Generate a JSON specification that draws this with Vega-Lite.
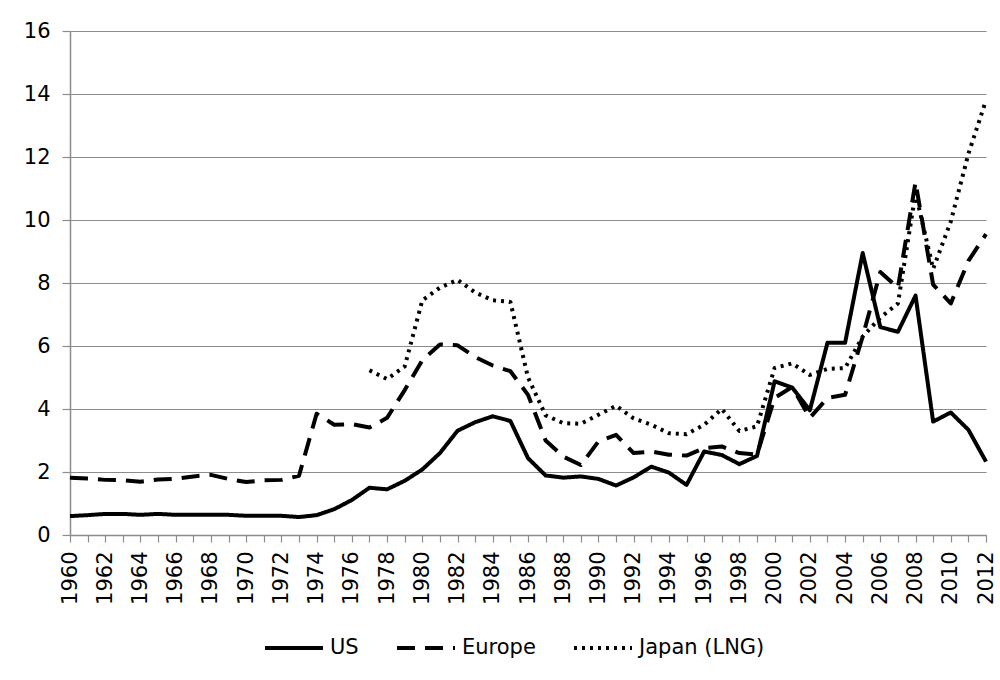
{
  "$schema": "https://vega.github.io/schema/vega-lite/v6.json",
  "autosize": {"type": "none"},
  "width": 916,
  "height": 504,
  "padding": {"left": 70, "top": 31, "right": 14, "bottom": 145},
  "background": "#ffffff",
  "config": {
    "font": "DejaVu Sans",
    "view": {"stroke": null},
    "axis": {"labelFont": "DejaVu Sans", "labelFontSize": 21, "labelColor": "#000000", "domainColor": "#8c8c8c", "tickColor": "#8c8c8c", "gridColor": "#8c8c8c", "domainWidth": 1.5, "tickWidth": 1.2, "gridWidth": 1.2}
  },
  "data": {"values": [
    {"year": 1960, "series": "US", "value": 0.60},
    {"year": 1961, "series": "US", "value": 0.63},
    {"year": 1962, "series": "US", "value": 0.67},
    {"year": 1963, "series": "US", "value": 0.67},
    {"year": 1964, "series": "US", "value": 0.64},
    {"year": 1965, "series": "US", "value": 0.67},
    {"year": 1966, "series": "US", "value": 0.64},
    {"year": 1967, "series": "US", "value": 0.64},
    {"year": 1968, "series": "US", "value": 0.64},
    {"year": 1969, "series": "US", "value": 0.64},
    {"year": 1970, "series": "US", "value": 0.61},
    {"year": 1971, "series": "US", "value": 0.61},
    {"year": 1972, "series": "US", "value": 0.61},
    {"year": 1973, "series": "US", "value": 0.57},
    {"year": 1974, "series": "US", "value": 0.63},
    {"year": 1975, "series": "US", "value": 0.82},
    {"year": 1976, "series": "US", "value": 1.11},
    {"year": 1977, "series": "US", "value": 1.50},
    {"year": 1978, "series": "US", "value": 1.45},
    {"year": 1979, "series": "US", "value": 1.72},
    {"year": 1980, "series": "US", "value": 2.08},
    {"year": 1981, "series": "US", "value": 2.60},
    {"year": 1982, "series": "US", "value": 3.31},
    {"year": 1983, "series": "US", "value": 3.58},
    {"year": 1984, "series": "US", "value": 3.77},
    {"year": 1985, "series": "US", "value": 3.62},
    {"year": 1986, "series": "US", "value": 2.44},
    {"year": 1987, "series": "US", "value": 1.89},
    {"year": 1988, "series": "US", "value": 1.82},
    {"year": 1989, "series": "US", "value": 1.86},
    {"year": 1990, "series": "US", "value": 1.78},
    {"year": 1991, "series": "US", "value": 1.57},
    {"year": 1992, "series": "US", "value": 1.83},
    {"year": 1993, "series": "US", "value": 2.17},
    {"year": 1994, "series": "US", "value": 1.98},
    {"year": 1995, "series": "US", "value": 1.59},
    {"year": 1996, "series": "US", "value": 2.65},
    {"year": 1997, "series": "US", "value": 2.54},
    {"year": 1998, "series": "US", "value": 2.25},
    {"year": 1999, "series": "US", "value": 2.51},
    {"year": 2000, "series": "US", "value": 4.88},
    {"year": 2001, "series": "US", "value": 4.68},
    {"year": 2002, "series": "US", "value": 3.96},
    {"year": 2003, "series": "US", "value": 6.10},
    {"year": 2004, "series": "US", "value": 6.10},
    {"year": 2005, "series": "US", "value": 8.95},
    {"year": 2006, "series": "US", "value": 6.60},
    {"year": 2007, "series": "US", "value": 6.45},
    {"year": 2008, "series": "US", "value": 7.60},
    {"year": 2009, "series": "US", "value": 3.60},
    {"year": 2010, "series": "US", "value": 3.89},
    {"year": 2011, "series": "US", "value": 3.34},
    {"year": 2012, "series": "US", "value": 2.33},
    {"year": 1960, "series": "Europe", "value": 1.82},
    {"year": 1961, "series": "Europe", "value": 1.79},
    {"year": 1962, "series": "Europe", "value": 1.75},
    {"year": 1963, "series": "Europe", "value": 1.74},
    {"year": 1964, "series": "Europe", "value": 1.69},
    {"year": 1965, "series": "Europe", "value": 1.76},
    {"year": 1966, "series": "Europe", "value": 1.78},
    {"year": 1967, "series": "Europe", "value": 1.86},
    {"year": 1968, "series": "Europe", "value": 1.91},
    {"year": 1969, "series": "Europe", "value": 1.78},
    {"year": 1970, "series": "Europe", "value": 1.68},
    {"year": 1971, "series": "Europe", "value": 1.74},
    {"year": 1972, "series": "Europe", "value": 1.75},
    {"year": 1973, "series": "Europe", "value": 1.88},
    {"year": 1974, "series": "Europe", "value": 3.85},
    {"year": 1975, "series": "Europe", "value": 3.50},
    {"year": 1976, "series": "Europe", "value": 3.52},
    {"year": 1977, "series": "Europe", "value": 3.41},
    {"year": 1978, "series": "Europe", "value": 3.72},
    {"year": 1979, "series": "Europe", "value": 4.60},
    {"year": 1980, "series": "Europe", "value": 5.55},
    {"year": 1981, "series": "Europe", "value": 6.05},
    {"year": 1982, "series": "Europe", "value": 6.02},
    {"year": 1983, "series": "Europe", "value": 5.65},
    {"year": 1984, "series": "Europe", "value": 5.38},
    {"year": 1985, "series": "Europe", "value": 5.20},
    {"year": 1986, "series": "Europe", "value": 4.45},
    {"year": 1987, "series": "Europe", "value": 3.00},
    {"year": 1988, "series": "Europe", "value": 2.49},
    {"year": 1989, "series": "Europe", "value": 2.22},
    {"year": 1990, "series": "Europe", "value": 2.97},
    {"year": 1991, "series": "Europe", "value": 3.18},
    {"year": 1992, "series": "Europe", "value": 2.60},
    {"year": 1993, "series": "Europe", "value": 2.65},
    {"year": 1994, "series": "Europe", "value": 2.55},
    {"year": 1995, "series": "Europe", "value": 2.52},
    {"year": 1996, "series": "Europe", "value": 2.76},
    {"year": 1997, "series": "Europe", "value": 2.81},
    {"year": 1998, "series": "Europe", "value": 2.60},
    {"year": 1999, "series": "Europe", "value": 2.55},
    {"year": 2000, "series": "Europe", "value": 4.35},
    {"year": 2001, "series": "Europe", "value": 4.70},
    {"year": 2002, "series": "Europe", "value": 3.72},
    {"year": 2003, "series": "Europe", "value": 4.35},
    {"year": 2004, "series": "Europe", "value": 4.45},
    {"year": 2005, "series": "Europe", "value": 6.30},
    {"year": 2006, "series": "Europe", "value": 8.35},
    {"year": 2007, "series": "Europe", "value": 7.85},
    {"year": 2008, "series": "Europe", "value": 11.20},
    {"year": 2009, "series": "Europe", "value": 7.95},
    {"year": 2010, "series": "Europe", "value": 7.35},
    {"year": 2011, "series": "Europe", "value": 8.70},
    {"year": 2012, "series": "Europe", "value": 9.55},
    {"year": 1977, "series": "Japan (LNG)", "value": 5.23},
    {"year": 1978, "series": "Japan (LNG)", "value": 4.95},
    {"year": 1979, "series": "Japan (LNG)", "value": 5.35},
    {"year": 1980, "series": "Japan (LNG)", "value": 7.45},
    {"year": 1981, "series": "Japan (LNG)", "value": 7.85},
    {"year": 1982, "series": "Japan (LNG)", "value": 8.10},
    {"year": 1983, "series": "Japan (LNG)", "value": 7.70},
    {"year": 1984, "series": "Japan (LNG)", "value": 7.45},
    {"year": 1985, "series": "Japan (LNG)", "value": 7.40},
    {"year": 1986, "series": "Japan (LNG)", "value": 5.00},
    {"year": 1987, "series": "Japan (LNG)", "value": 3.80},
    {"year": 1988, "series": "Japan (LNG)", "value": 3.55},
    {"year": 1989, "series": "Japan (LNG)", "value": 3.53},
    {"year": 1990, "series": "Japan (LNG)", "value": 3.82},
    {"year": 1991, "series": "Japan (LNG)", "value": 4.10},
    {"year": 1992, "series": "Japan (LNG)", "value": 3.70},
    {"year": 1993, "series": "Japan (LNG)", "value": 3.50},
    {"year": 1994, "series": "Japan (LNG)", "value": 3.23},
    {"year": 1995, "series": "Japan (LNG)", "value": 3.20},
    {"year": 1996, "series": "Japan (LNG)", "value": 3.50},
    {"year": 1997, "series": "Japan (LNG)", "value": 4.00},
    {"year": 1998, "series": "Japan (LNG)", "value": 3.30},
    {"year": 1999, "series": "Japan (LNG)", "value": 3.45},
    {"year": 2000, "series": "Japan (LNG)", "value": 5.30},
    {"year": 2001, "series": "Japan (LNG)", "value": 5.45},
    {"year": 2002, "series": "Japan (LNG)", "value": 5.08},
    {"year": 2003, "series": "Japan (LNG)", "value": 5.27},
    {"year": 2004, "series": "Japan (LNG)", "value": 5.30},
    {"year": 2005, "series": "Japan (LNG)", "value": 6.30},
    {"year": 2006, "series": "Japan (LNG)", "value": 6.90},
    {"year": 2007, "series": "Japan (LNG)", "value": 7.35},
    {"year": 2008, "series": "Japan (LNG)", "value": 10.85},
    {"year": 2009, "series": "Japan (LNG)", "value": 8.45},
    {"year": 2010, "series": "Japan (LNG)", "value": 9.95},
    {"year": 2011, "series": "Japan (LNG)", "value": 12.10},
    {"year": 2012, "series": "Japan (LNG)", "value": 13.80}
  ]},
  "mark": {"type": "line", "color": "#000000", "strokeWidth": 4, "strokeJoin": "round"},
  "encoding": {
    "x": {
      "field": "year", "type": "quantitative",
      "scale": {"domain": [1960, 2012], "nice": false, "zero": false},
      "axis": {
        "title": null, "grid": false,
        "values": [1960,1961,1962,1963,1964,1965,1966,1967,1968,1969,1970,1971,1972,1973,1974,1975,1976,1977,1978,1979,1980,1981,1982,1983,1984,1985,1986,1987,1988,1989,1990,1991,1992,1993,1994,1995,1996,1997,1998,1999,2000,2001,2002,2003,2004,2005,2006,2007,2008,2009,2010,2011,2012],
        "labelExpr": "datum.value % 2 == 0 ? '' + datum.value : ''",
        "labelAngle": -90, "labelAlign": "right", "labelBaseline": "middle",
        "tickSize": 7, "labelPadding": 9, "labelOverlap": false, "labelFlush": false, "labelBound": false
      }
    },
    "y": {
      "field": "value", "type": "quantitative",
      "scale": {"domain": [0, 16], "nice": false},
      "axis": {
        "title": null, "values": [0, 2, 4, 6, 8, 10, 12, 14, 16],
        "tickSize": 8, "labelPadding": 12, "grid": true
      }
    },
    "strokeDash": {
      "field": "series", "type": "nominal",
      "scale": {"domain": ["US", "Europe", "Japan (LNG)"], "range": [[1, 0], [18, 10], [3, 5]]},
      "legend": {
        "title": null, "orient": "none", "direction": "horizontal",
        "legendX": 193, "legendY": 586,
        "symbolType": "stroke", "symbolSize": 3364, "symbolStrokeWidth": 4, "symbolStrokeColor": "#000000",
        "labelFont": "DejaVu Sans", "labelFontSize": 21, "labelColor": "#000000", "labelOffset": 5, "columnPadding": 30
      }
    }
  }
}
